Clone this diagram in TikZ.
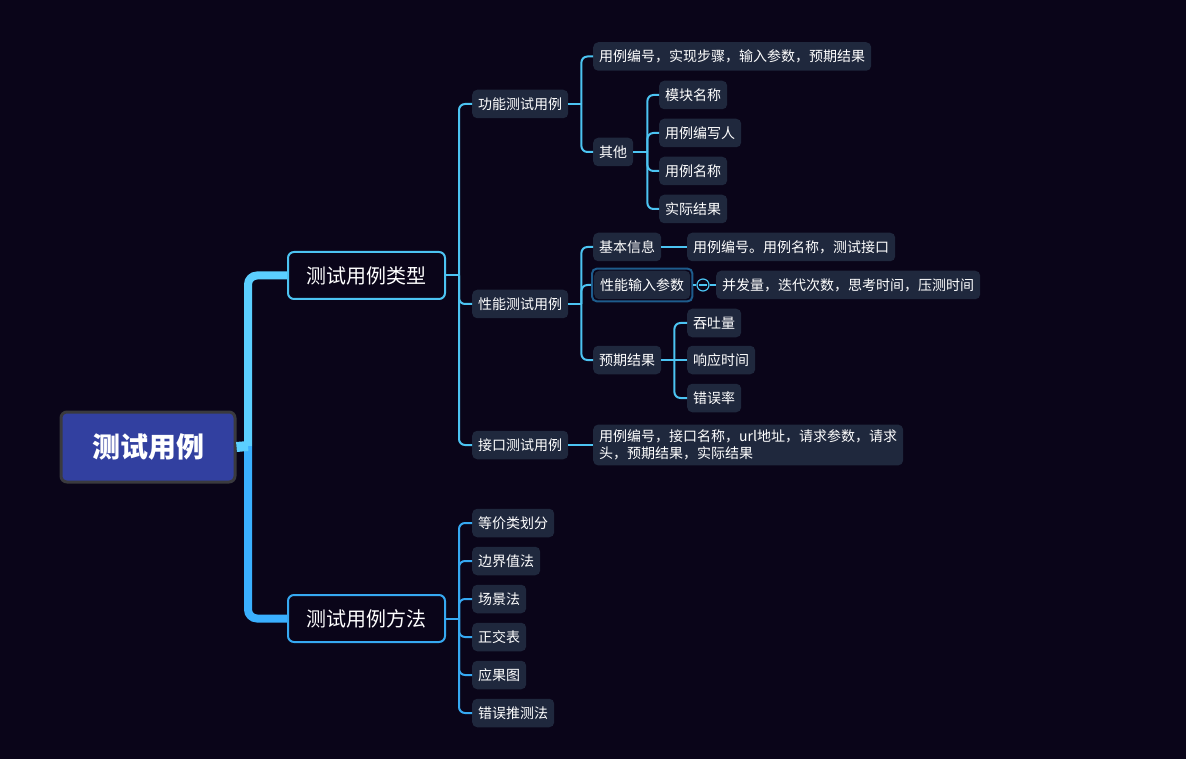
\documentclass[tikz,border=0pt]{standalone}
\usepackage{fontspec}
\setmainfont{Noto Sans CJK SC}
\usetikzlibrary{positioning,fit}
\definecolor{bgdark}{HTML}{0A0519}
\definecolor{rootfill}{HTML}{3240A0}
\definecolor{rootedge}{HTML}{3A3A3E}
\definecolor{leaffill}{HTML}{1F283D}
\definecolor{upline}{HTML}{4CC4F2}
\definecolor{lowline}{HTML}{36A9F2}
\definecolor{uptrunk}{HTML}{5BCFFF}
\definecolor{lowtrunk}{HTML}{3AB0FF}
\definecolor{selblue}{HTML}{1E5C8C}

\begin{document}
\begin{tikzpicture}[x=1pt, y=-1pt,
  root/.style={draw=rootedge, line width=3pt, fill=rootfill, rounded corners=6pt, text=white, font=\fontsize{28}{32}\selectfont\bfseries, minimum width=174pt, minimum height=70pt},
  topic/.style={draw, line width=2pt, fill=bgdark, rounded corners=6pt, text=white, font=\fontsize{20}{24}\selectfont, minimum width=157pt, minimum height=47pt, anchor=west},
  leaf/.style={fill=leaffill, rounded corners=5pt, text=white, font=\fontsize{14}{17.5}\selectfont, inner xsep=6pt, inner ysep=0pt, minimum height=28.5pt, anchor=west},
  link/.style={line width=2pt, rounded corners=6pt},
  trunk/.style={line width=8pt, rounded corners=9pt}
]
  \fill[bgdark] (0,0) rectangle (1186,759);

  % root and first level
  \node[root] (root) at (148,447) {测试用例};
  \node[topic, draw=upline] (kind) at (287,275.5) {测试用例类型};
  \node[topic, draw=lowline] (way) at (287,618.5) {测试用例方法};
  \coordinate (hub) at (248,446);

  % test case kinds
  \node[leaf] (func) at (472,104) {功能测试用例};
  \node[leaf] (perf) at (472,304) {性能测试用例};
  \node[leaf] (api) at (472,445) {接口测试用例};

  \node[leaf] (fnum) at (593,56.5) {用例编号，实现步骤，输入参数，预期结果};
  \node[leaf] (fother) at (593,152) {其他};
  \node[leaf] (omod) at (659,95) {模块名称};
  \node[leaf] (oauth) at (659,133) {用例编写人};
  \node[leaf] (oname) at (659,171) {用例名称};
  \node[leaf] (ores) at (659,209) {实际结果};

  \node[leaf] (pbase) at (593,247) {基本信息};
  \node[leaf] (pbasev) at (687,247) {用例编号。用例名称，测试接口};
  \node[leaf] (pin) at (594,285) {性能输入参数};
  \node[draw=selblue, line width=2pt, rounded corners=5pt, inner sep=2pt, fit=(pin)] (pinsel) {};
  \node[circle, draw=upline, line width=1.2pt, fill=bgdark, minimum size=12pt, inner sep=0pt] (fold) at (703,285) {};
  \node[leaf] (pinv) at (716,285) {并发量，迭代次数，思考时间，压测时间};
  \node[leaf] (pexp) at (593,360) {预期结果};
  \node[leaf] (ethru) at (687,323) {吞吐量};
  \node[leaf] (eresp) at (687,360) {响应时间};
  \node[leaf] (eerr) at (687,398) {错误率};

  \node[leaf, align=left, inner ysep=5pt] (apiv) at (593,445) {用例编号，接口名称，url地址，请求参数，请求\\头，预期结果，实际结果};

  % test case methods
  \node[leaf] (m1) at (472,523) {等价类划分};
  \node[leaf] (m2) at (472,561) {边界值法};
  \node[leaf] (m3) at (472,599) {场景法};
  \node[leaf] (m4) at (472,637) {正交表};
  \node[leaf] (m5) at (472,675) {应果图};
  \node[leaf] (m6) at (472,713) {错误推测法};

  % trunk
  \draw[trunk, uptrunk] (hub) |- (kind.west);
  \draw[trunk, lowtrunk] (hub) |- (way.west);
  \draw[line width=10pt, uptrunk] (root.east) -- (hub);

  % branches
  \draw[link, upline] (kind.east) -- ++(13,0);
  \draw[link, upline] (kind.east) ++(13,0) |- (func.west);
  \draw[link, upline] (kind.east) ++(13,0) |- (perf.west);
  \draw[link, upline] (kind.east) ++(13,0) |- (api.west);

  \draw[link, upline] (func.east) -- ++(13,0);
  \draw[link, upline] (func.east) ++(13,0) |- (fnum.west);
  \draw[link, upline] (func.east) ++(13,0) |- (fother.west);
  \draw[link, upline] (fother.east) -- ++(14,0);
  \draw[link, upline] (fother.east) ++(14,0) |- (omod.west);
  \draw[link, upline] (fother.east) ++(14,0) |- (oauth.west);
  \draw[link, upline] (fother.east) ++(14,0) |- (oname.west);
  \draw[link, upline] (fother.east) ++(14,0) |- (ores.west);

  \draw[link, upline] (perf.east) -- ++(13,0);
  \draw[link, upline] (perf.east) ++(13,0) |- (pbase.west);
  \draw[link, upline] (perf.east) ++(13,0) |- (pinsel.west);
  \draw[link, upline] (perf.east) ++(13,0) |- (pexp.west);
  \draw[link, upline] (pbase.east) -- (pbasev.west);
  \draw[link, upline] (pinsel.east) -- (fold.west);
  \draw[link, upline] (fold.east) -- (pinv.west);
  \draw[upline, line width=1.2pt] ([xshift=2.5pt]fold.west) -- ([xshift=-2.5pt]fold.east);
  \draw[link, upline] (pexp.east) -- (eresp.west);
  \draw[link, upline] (pexp.east) ++(13,0) |- (ethru.west);
  \draw[link, upline] (pexp.east) ++(13,0) |- (eerr.west);

  \draw[link, upline] (api.east) -- (apiv.west);

  \draw[link, lowline] (way.east) -- ++(13,0);
  \draw[link, lowline] (way.east) ++(13,0) |- (m1.west);
  \draw[link, lowline] (way.east) ++(13,0) |- (m2.west);
  \draw[link, lowline] (way.east) ++(13,0) |- (m3.west);
  \draw[link, lowline] (way.east) ++(13,0) |- (m4.west);
  \draw[link, lowline] (way.east) ++(13,0) |- (m5.west);
  \draw[link, lowline] (way.east) ++(13,0) |- (m6.west);
\end{tikzpicture}
\end{document}
